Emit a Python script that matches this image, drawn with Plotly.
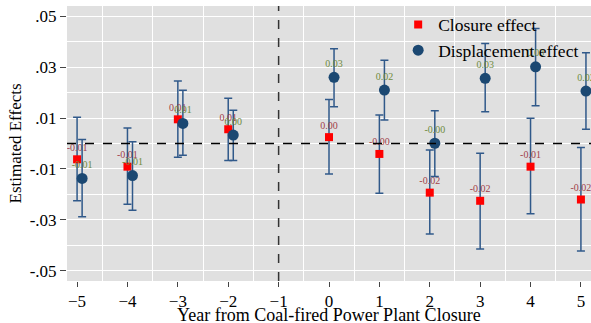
import plotly.graph_objects as go

years = [-5, -4, -3, -2, 0, 1, 2, 3, 4, 5]

closure_est = [-0.0062, -0.0091, 0.0095, 0.0056, 0.0025, -0.0041, -0.0193, -0.0225, -0.0091, -0.0220]
closure_hi = [0.0103, 0.0061, 0.0245, 0.0178, 0.0173, 0.0112, -0.0026, -0.0038, 0.0099, -0.0016]
closure_lo = [-0.0225, -0.0239, -0.0054, -0.0067, -0.0120, -0.0195, -0.0355, -0.0414, -0.0276, -0.0422]
closure_lbl = ["-0.01", "-0.01", "0.01", "0.01", "0.00", "-0.00", "-0.02", "-0.02", "-0.01", "-0.02"]

disp_est = [-0.0137, -0.0126, 0.0079, 0.0033, 0.0260, 0.0210, 0.0001, 0.0256, 0.0301, 0.0206]
disp_hi = [0.0016, 0.0007, 0.0209, 0.0131, 0.0372, 0.0327, 0.0129, 0.0393, 0.0452, 0.0356]
disp_lo = [-0.0288, -0.0262, -0.0046, -0.0067, 0.0144, 0.0092, -0.0130, 0.0125, 0.0148, 0.0056]
disp_lbl = ["-0.01", "-0.01", "0.01", "0.00", "0.03", "0.02", "-0.00", "0.03", "0.03", "0.02"]

x_ticks = [-5, -4, -3, -2, -1, 0, 1, 2, 3, 4, 5]
y_ticks = [0.05, 0.03, 0.01, -0.01, -0.03, -0.05]
y_ticktext = [".05", ".03", ".01", "-.01", "-.03", "-.05"]

x_title = "Year from Coal-fired Power Plant Closure"
y_title = "Estimated Effects"

SERIF = "Liberation Serif"
BAR = "#30598a"
NAVY = "#1b4872"

disp_x = [y + 0.1 for y in years]

fig = go.Figure()

fig.add_trace(go.Scatter(
    x=years, y=closure_est, mode="markers+text", name="Closure effect",
    marker=dict(symbol="square", size=8, color="#ff0000"),
    error_y=dict(type="data", symmetric=False,
                 array=[h - e for h, e in zip(closure_hi, closure_est)],
                 arrayminus=[e - l for l, e in zip(closure_lo, closure_est)],
                 color=BAR, thickness=1.5, width=4),
    text=closure_lbl, textposition="top center",
    textfont=dict(family=SERIF, size=10, color="#a0404a"),
))

fig.add_trace(go.Scatter(
    x=disp_x, y=disp_est, mode="markers+text", name="Displacement effect",
    marker=dict(symbol="circle", size=11, color=NAVY),
    error_y=dict(type="data", symmetric=False,
                 array=[h - e for h, e in zip(disp_hi, disp_est)],
                 arrayminus=[e - l for l, e in zip(disp_lo, disp_est)],
                 color=BAR, thickness=1.5, width=4),
    text=disp_lbl, textposition="top center",
    textfont=dict(family=SERIF, size=10, color="#6e8b3d"),
))

fig.add_hline(y=0, line=dict(color="black", width=1.3, dash="dash"))
fig.add_vline(x=-1, line=dict(color="#333333", width=1.5, dash="dash"))

fig.add_annotation(text=x_title, xref="paper", yref="paper", x=0.5, y=-0.0,
                   yshift=-34, xanchor="center", yanchor="middle", showarrow=False,
                   font=dict(family=SERIF, size=18, color="black"))
fig.add_annotation(text=y_title, xref="paper", yref="paper", x=0, y=0.5,
                   xshift=-52, xanchor="center", yanchor="middle", showarrow=False,
                   textangle=-90, font=dict(family=SERIF, size=17, color="black"))

fig.update_layout(
    width=591, height=323,
    margin=dict(l=67, r=0, t=6, b=42),
    paper_bgcolor="white", plot_bgcolor="#e0e0e0",
    font=dict(family=SERIF, size=17, color="black"),
    showlegend=True,
    legend=dict(x=0.632, y=0.998, xanchor="left", yanchor="top",
                bgcolor="rgba(0,0,0,0)", font=dict(family=SERIF, size=17.5),
                itemwidth=30, tracegroupgap=0),
)

fig.update_xaxes(
    range=[-5.2, 5.2], tickvals=x_ticks, ticks="outside", ticklen=5,
    tickcolor="#444", showgrid=False, zeroline=False, showline=False,
    automargin=False,
    minor=dict(tickvals=[v + 0.5 for v in x_ticks[:-1]], showgrid=True,
               gridcolor="white", gridwidth=1, ticks=""),
    tickfont=dict(family=SERIF, size=17),
)

fig.update_yaxes(
    range=[-0.054, 0.054], tickvals=y_ticks, ticktext=y_ticktext,
    ticks="outside", ticklen=6, tickcolor="#444",
    showgrid=True, gridcolor="white", gridwidth=1, zeroline=False, showline=False,
    automargin=False,
    minor=dict(tickvals=[-0.04, -0.02, 0.0, 0.02, 0.04], showgrid=True,
               gridcolor="white", gridwidth=1, ticks=""),
    tickfont=dict(family=SERIF, size=17),
)

fig.write_html("out.html", config={"displayModeBar": False},
               post_script="document.body.style.margin='0';")
